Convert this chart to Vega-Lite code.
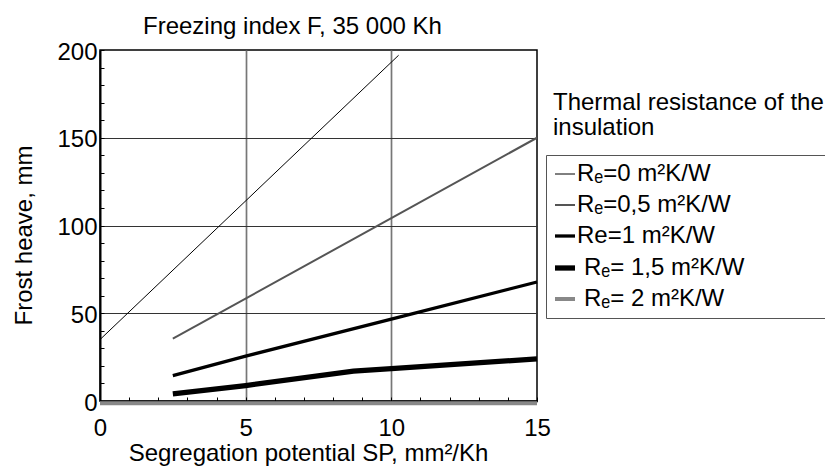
{
  "$schema": "https://vega.github.io/schema/vega-lite/v6.json",
  "width": 437,
  "height": 351,
  "autosize": "none",
  "padding": {"left": 100, "top": 50, "right": 288, "bottom": 65},
  "background": "white",
  "config": {
    "font": "Liberation Sans",
    "view": {"stroke": "black", "strokeWidth": 1.5}
  },
  "title": {
    "text": "Freezing index F, 35 000 Kh",
    "fontSize": 24,
    "fontWeight": "normal",
    "color": "black",
    "anchor": "start",
    "frame": "group",
    "dx": 43,
    "offset": -18,
    "baseline": "alphabetic"
  },
  "data": {
    "values": [
      {"series": "Rₑ=0 m²K/W", "sp": 0, "heave": 35},
      {"series": "Rₑ=0 m²K/W", "sp": 10.25, "heave": 197},
      {"series": "Rₑ=0,5 m²K/W", "sp": 2.5, "heave": 35.5},
      {"series": "Rₑ=0,5 m²K/W", "sp": 15, "heave": 150},
      {"series": "Re=1 m²K/W", "sp": 2.5, "heave": 14.5},
      {"series": "Re=1 m²K/W", "sp": 5, "heave": 25.6},
      {"series": "Re=1 m²K/W", "sp": 10, "heave": 46.7},
      {"series": "Re=1 m²K/W", "sp": 15, "heave": 67.8},
      {"series": "Rₑ= 1,5 m²K/W", "sp": 2.5, "heave": 4},
      {"series": "Rₑ= 1,5 m²K/W", "sp": 5, "heave": 8.8},
      {"series": "Rₑ= 1,5 m²K/W", "sp": 8.7, "heave": 17},
      {"series": "Rₑ= 1,5 m²K/W", "sp": 10, "heave": 18.4},
      {"series": "Rₑ= 1,5 m²K/W", "sp": 15, "heave": 24},
      {"series": "Rₑ= 2 m²K/W", "sp": 0, "heave": -1.3},
      {"series": "Rₑ= 2 m²K/W", "sp": 15, "heave": -1.3}
    ]
  },
  "resolve": {"axis": {"x": "independent", "y": "independent"}},
  "layer": [
    {
      "mark": {"type": "line", "strokeCap": "butt", "clip": false},
      "encoding": {
        "x": {
          "field": "sp",
          "type": "quantitative",
          "scale": {"domain": [0, 15], "nice": false, "zero": false},
          "axis": {
            "orient": "bottom",
            "values": [0, 5, 10, 15],
            "labelFlush": false,
            "labelOverlap": false,
            "title": "Segregation potential SP, mm²/Kh",
            "titleX": 208,
            "tickSize": -4,
            "tickColor": "black",
            "tickWidth": 1,
            "labelPadding": 19,
            "labelFontSize": 24,
            "labelColor": "black",
            "titleFontSize": 24,
            "titleFontWeight": "normal",
            "titleColor": "black",
            "titlePadding": 1,
            "domainColor": "black",
            "domainWidth": 2,
            "grid": false
          }
        },
        "y": {
          "field": "heave",
          "type": "quantitative",
          "scale": {"domain": [0, 200], "nice": false, "zero": false},
          "axis": {
            "orient": "left",
            "values": [0, 50, 100, 150, 200],
            "labelFlush": false,
            "labelOverlap": false,
            "labelOffset": 2,
            "title": "Frost heave, mm",
            "titleY": 185,
            "tickSize": -4,
            "tickColor": "black",
            "tickWidth": 1,
            "labelPadding": 7,
            "labelFontSize": 24,
            "labelColor": "black",
            "titleFontSize": 24,
            "titleFontWeight": "normal",
            "titleColor": "black",
            "titlePadding": 20,
            "domainColor": "black",
            "domainWidth": 2,
            "grid": false
          }
        },
        "color": {
          "field": "series",
          "type": "nominal",
          "scale": {
            "domain": ["Rₑ=0 m²K/W", "Rₑ=0,5 m²K/W", "Re=1 m²K/W", "Rₑ= 1,5 m²K/W", "Rₑ= 2 m²K/W"],
            "range": ["#000000", "#555555", "#000000", "#000000", "#888888"]
          },
          "legend": {
            "orient": "none",
            "legendX": 446,
            "legendY": 105,
            "title": ["Thermal resistance of the", "insulation"],
            "titleFontSize": 24,
            "titleFontWeight": "normal",
            "titleColor": "black",
            "titleLineHeight": 25,
            "titleLimit": 400,
            "titlePadding": -49,
            "padding": 7,
            "strokeColor": "#555555",
            "symbolType": "stroke",
            "symbolSize": 400,
            "symbolOffset": -1,
            "labelFontSize": 24,
            "labelColor": "black",
            "labelOffset": -1,
            "labelLimit": 0,
            "rowPadding": 7,
            "encode": {
              "title": {"update": {"dy": {"value": -71}}},
              "labels": {"update": {"dx": {"signal": "datum.index >= 3 ? 7 : 0"}}}
            }
          }
        },
        "strokeWidth": {
          "field": "series",
          "type": "nominal",
          "scale": {
            "type": "ordinal",
            "domain": ["Rₑ=0 m²K/W", "Rₑ=0,5 m²K/W", "Re=1 m²K/W", "Rₑ= 1,5 m²K/W", "Rₑ= 2 m²K/W"],
            "range": [1, 2, 3.3, 5.3, 4]
          },
          "legend": {
            "orient": "none",
            "legendX": 446,
            "legendY": 105,
            "title": ["Thermal resistance of the", "insulation"],
            "titleFontSize": 24,
            "titleFontWeight": "normal",
            "titleColor": "black",
            "titleLineHeight": 25,
            "titleLimit": 400,
            "titlePadding": -49,
            "padding": 7,
            "strokeColor": "#555555",
            "symbolType": "stroke",
            "symbolSize": 400,
            "symbolOffset": -1,
            "labelFontSize": 24,
            "labelColor": "black",
            "labelOffset": -1,
            "labelLimit": 0,
            "rowPadding": 7,
            "encode": {
              "title": {"update": {"dy": {"value": -71}}},
              "labels": {"update": {"dx": {"signal": "datum.index >= 3 ? 7 : 0"}}}
            }
          }
        }
      }
    },
    {
      "data": {"values": [{}]},
      "mark": {"type": "point", "opacity": 0},
      "encoding": {
        "x": {
          "datum": 0,
          "axis": {
            "orient": "bottom",
            "values": [1, 2, 3, 4, 6, 7, 8, 9, 11, 12, 13, 14],
            "labels": false,
            "domain": false,
            "grid": false,
            "title": null,
            "tickSize": -4,
            "tickColor": "black",
            "tickWidth": 1
          }
        },
        "y": {
          "datum": 0,
          "axis": {
            "orient": "left",
            "values": [10, 20, 30, 40, 60, 70, 80, 90, 110, 120, 130, 140, 160, 170, 180, 190],
            "labels": false,
            "domain": false,
            "grid": false,
            "title": null,
            "tickSize": -4,
            "tickColor": "black",
            "tickWidth": 1
          }
        }
      }
    },
    {
      "data": {"values": [{}]},
      "mark": {"type": "point", "opacity": 0},
      "encoding": {
        "x": {
          "datum": 0,
          "axis": {
            "orient": "bottom",
            "values": [5, 10],
            "labels": false,
            "domain": false,
            "ticks": false,
            "title": null,
            "grid": true,
            "gridColor": "#777777",
            "gridWidth": 1.7
          }
        },
        "y": {
          "datum": 0,
          "axis": {
            "orient": "left",
            "values": [50, 100, 150],
            "labels": false,
            "domain": false,
            "ticks": false,
            "title": null,
            "grid": true,
            "gridColor": "#333333",
            "gridWidth": 1
          }
        }
      }
    }
  ]
}
